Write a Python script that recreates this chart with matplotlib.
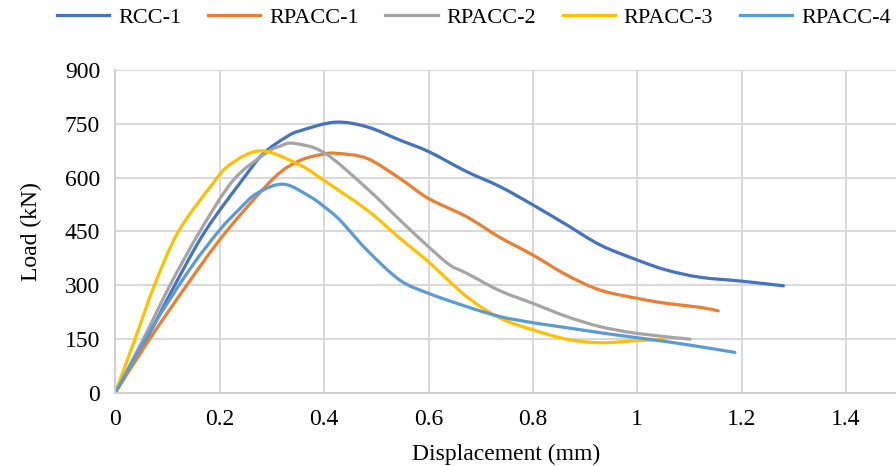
# plot.py - load vs displacement curves, saved to out.png

import matplotlib
matplotlib.use("Agg")
import matplotlib.pyplot as plt
from matplotlib.path import Path
from matplotlib.patches import PathPatch
from matplotlib.lines import Line2D

# data
names = ["RCC-1", "RPACC-1", "RPACC-2", "RPACC-3", "RPACC-4"]

rcc1_x = [0, 0.06, 0.114, 0.172, 0.245, 0.284, 0.328, 0.354, 0.421, 0.482,
          0.545, 0.6, 0.673, 0.737, 0.8, 0.865, 0.929, 1.0, 1.056, 1.12, 1.2,
          1.28]
rcc1_y = [0, 150, 300, 450, 597, 668, 714, 731, 755, 742,
          705, 673, 617, 575, 524, 468, 412, 370, 342, 322, 311,
          298]

rpacc1_x = [0, 0.066, 0.137, 0.21, 0.303, 0.354, 0.4, 0.424, 0.482, 0.545, 0.6,
            0.673, 0.737, 0.8, 0.865, 0.929, 1.0, 1.056, 1.12, 1.155]
rpacc1_y = [0, 150, 300, 445, 598, 648, 666, 668, 654, 598, 542,
            491, 433, 384, 328, 286, 263, 249, 238, 228]

rpacc2_x = [0, 0.054, 0.105, 0.162, 0.226, 0.29, 0.316, 0.341, 0.4, 0.482,
            0.545, 0.6, 0.641, 0.673, 0.737, 0.8, 0.865, 0.929, 1.0, 1.101]
rpacc2_y = [0, 150, 300, 450, 593, 670, 688, 696, 670, 570,
            482, 407, 356, 333, 284, 249, 212, 184, 165, 149]

rpacc3_x = [0, 0.038, 0.075, 0.121, 0.185, 0.22, 0.28, 0.354, 0.4, 0.482, 0.545,
            0.6, 0.673, 0.737, 0.8, 0.865, 0.929, 1.0, 1.05]
rpacc3_y = [0, 150, 300, 450, 580, 637, 675, 635, 592, 510, 431,
            365, 268, 208, 175, 149, 139, 145, 148]

rpacc4_x = [0, 0.07, 0.143, 0.2, 0.239, 0.271, 0.322, 0.373, 0.4, 0.43,
            0.482, 0.545, 0.6, 0.673, 0.737, 0.8, 0.865, 0.929, 1.0, 1.056,
            1.12, 1.187]
rpacc4_y = [0, 180, 345, 454, 514, 556, 582, 547, 519, 482,
            398, 314, 277, 240, 212, 195, 181, 167, 153, 142,
            128, 112]

xs = [rcc1_x, rpacc1_x, rpacc2_x, rpacc3_x, rpacc4_x]
ys = [rcc1_y, rpacc1_y, rpacc2_y, rpacc3_y, rpacc4_y]
colors = ["#4472C4", "#ED7D31", "#A5A5A5", "#FFC000", "#5B9BD5"]

x_ticks = [0, 0.2, 0.4, 0.6, 0.8, 1.0, 1.2, 1.4]
x_labels = ["0", "0.2", "0.4", "0.6", "0.8", "1", "1.2", "1.4"]
y_ticks = [0, 150, 300, 450, 600, 750, 900]


def smooth_path(x, y, t=1 / 6):
    # Excel-style smoothed line: bezier segments through every data point
    verts = [(x[0], y[0])]
    codes = [Path.MOVETO]
    n = len(x)
    for i in range(n - 1):
        x0, y0 = x[max(i - 1, 0)], y[max(i - 1, 0)]
        x1, y1 = x[i], y[i]
        x2, y2 = x[i + 1], y[i + 1]
        x3, y3 = x[min(i + 2, n - 1)], y[min(i + 2, n - 1)]
        c1 = (x1 + (x2 - x0) * t, y1 + (y2 - y0) * t)
        c2 = (x2 - (x3 - x1) * t, y2 - (y3 - y1) * t)
        verts += [c1, c2, (x2, y2)]
        codes += [Path.CURVE4] * 3
    return Path(verts, codes)


plt.rcParams["font.family"] = ["Liberation Serif", "DejaVu Serif"]
plt.rcParams["font.size"] = 17

fig = plt.figure(figsize=(8.96, 4.66), dpi=100)
ax = fig.add_axes([0.1287, 0.1577, 0.8713, 0.6915])

handles = []
for x, y, c, n in zip(xs, ys, colors, names):
    patch = PathPatch(smooth_path(x, y), facecolor="none", edgecolor=c,
                      linewidth=2.3, capstyle="round", joinstyle="round")
    ax.add_patch(patch)
    handles.append(Line2D([], [], color=c, linewidth=2.3, label=n))

ax.set_xlim(0, 1.4956)
ax.set_ylim(0, 900)
ax.set_xticks(x_ticks)
ax.set_xticklabels(x_labels)
ax.set_yticks(y_ticks)
ax.grid(True, color="#D9D9D9", linewidth=1.5)
ax.set_axisbelow(True)
for side in ["top", "right"]:
    ax.spines[side].set_visible(False)
for side in ["left", "bottom"]:
    ax.spines[side].set_color("#D0D0D0")
    ax.spines[side].set_linewidth(1.5)
ax.tick_params(length=0)
ax.tick_params(axis="x", pad=12)
ax.tick_params(axis="y", pad=11)

ax.set_xlabel("Displacement (mm)", labelpad=10)
ax.set_ylabel("Load (kN)", labelpad=16)

fig.legend(handles=handles, loc="center left",
           bbox_to_anchor=(57 / 896, 1 - 18 / 466), fontsize=16,
           ncol=5, frameon=False, handlelength=2.35, handletextpad=0.4,
           columnspacing=1.2, borderpad=0, borderaxespad=0)

fig.savefig("out.png", dpi=100)
